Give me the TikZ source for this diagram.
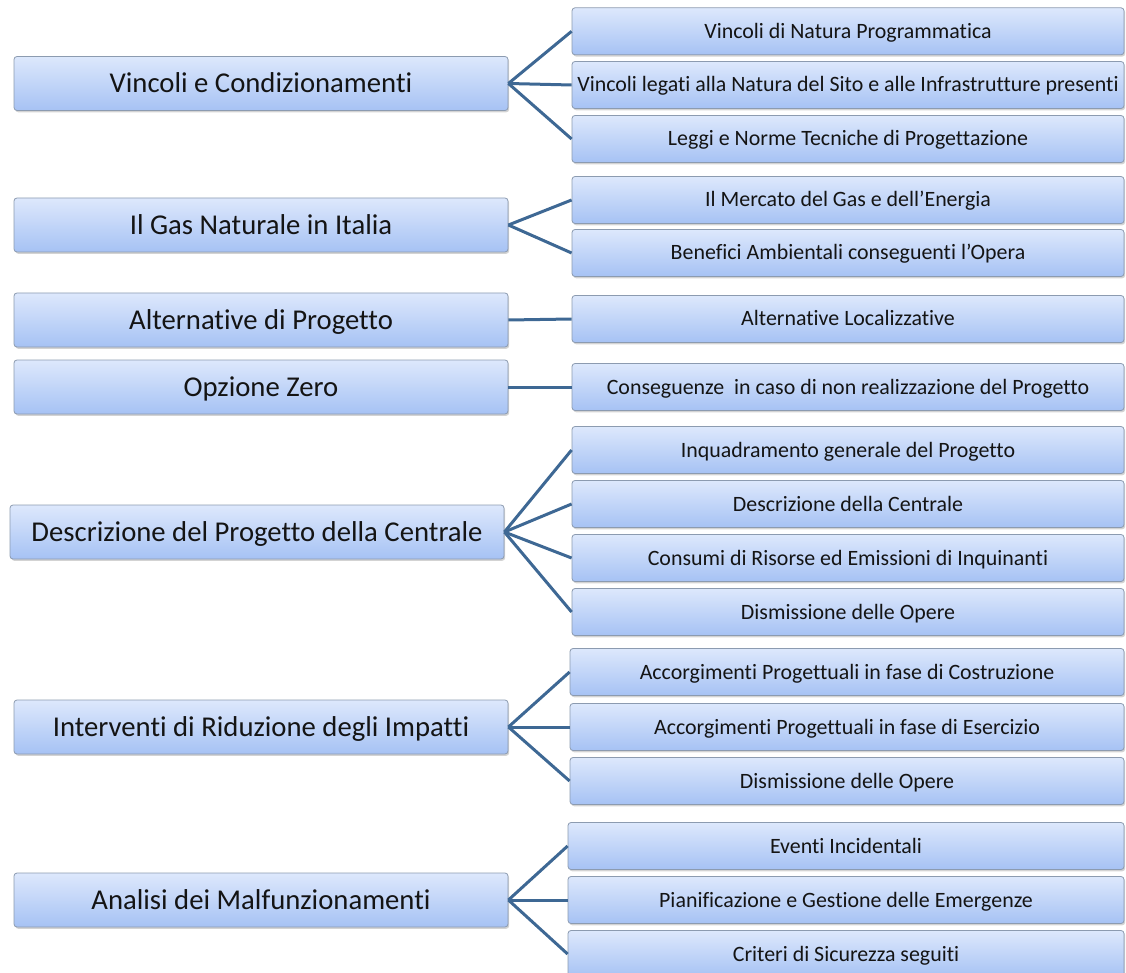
\documentclass[tikz,border=0pt]{standalone}
\usepackage{fontspec}
\setmainfont[Ligatures=NoCommon]{Carlito}
\usetikzlibrary{shadows}
\definecolor{topc}{HTML}{DDE8FC}
\definecolor{botc}{HTML}{A6C2F4}
\definecolor{edgec}{HTML}{8C9BB0}
\definecolor{linkc}{HTML}{3E6894}
\definecolor{txt}{HTML}{141414}
\tikzset{
  boxbase/.style={draw=edgec, line width=0.8pt, rounded corners=3pt, top color=topc, bottom color=botc,
    text=txt, inner sep=0pt,
    drop shadow={opacity=0.35, shadow xshift=1.2pt, shadow yshift=-1.8pt}},
  lbox/.style={boxbase, minimum width=494pt, minimum height=54pt, text height=24.1pt, text depth=5.7pt,
    font=\fontsize{28.7}{32}\selectfont},
  rbox/.style={boxbase, minimum width=552pt, minimum height=47pt, text height=18.4pt, text depth=4.4pt,
    font=\fontsize{21.9}{25}\selectfont},
  link/.style={draw=linkc, line width=3pt}
}
\begin{document}
\begin{tikzpicture}[x=1pt,y=-1pt]
\useasboundingbox (0,0) rectangle (1126,973);
% left boxes
\node[lbox] (L1) at (261,83.5) {Vincoli e Condizionamenti};
\node[lbox] (L2) at (261,225) {Il Gas Naturale in Italia};
\node[lbox] (L3) at (261,320) {Alternative di Progetto};
\node[lbox] (L4) at (261,387) {Opzione Zero};
\node[lbox] (L5) at (257,532) {Descrizione del Progetto della Centrale};
\node[lbox] (L6) at (261,727) {Interventi di Riduzione degli Impatti};
\node[lbox] (L7) at (261,900) {Analisi dei Malfunzionamenti};
% right boxes
\node[rbox] (R1) at (848,31.3) {Vincoli di Natura Programmatica};
\node[rbox] (R2) at (848,85) {Vincoli legati alla Natura del Sito e alle Infrastrutture presenti};
\node[rbox] (R3) at (848,139) {Leggi e Norme Tecniche di Progettazione};
\node[rbox] (R4) at (848,200) {Il Mercato del Gas e dell’Energia};
\node[rbox] (R5) at (848,253) {Benefici Ambientali conseguenti l’Opera};
\node[rbox] (R6) at (848,319) {Alternative Localizzative};
\node[rbox] (R7) at (848,387) {Conseguenze\ \ in caso di non\ realizzazione del Progetto};
\node[rbox] (R8) at (848,450) {Inquadramento generale del Progetto};
\node[rbox] (R9) at (848,504) {Descrizione della Centrale};
\node[rbox] (R10) at (848,558) {Consumi di Risorse ed Emissioni di Inquinanti};
\node[rbox] (R11) at (848,612) {Dismissione delle Opere};
\node[rbox, minimum width=554pt] (R12) at (847,672) {Accorgimenti Progettuali in fase di Costruzione};
\node[rbox, minimum width=554pt] (R13) at (847,727) {Accorgimenti Progettuali in fase di Esercizio};
\node[rbox, minimum width=554pt] (R14) at (847,781) {Dismissione delle Opere};
\node[rbox, minimum width=556pt] (R15) at (846,846) {Eventi Incidentali};
\node[rbox, minimum width=556pt] (R16) at (846,900) {Pianificazione e Gestione delle Emergenze};
\node[rbox, minimum width=556pt] (R17) at (846,954) {Criteri di Sicurezza seguiti};
% connectors
\foreach \r in {R1,R2,R3} \draw[link] (L1.east) -- (\r.west);
\foreach \r in {R4,R5} \draw[link] (L2.east) -- (\r.west);
\draw[link] (L3.east) -- (R6.west);
\draw[link] (L4.east) -- (R7.west);
\foreach \r in {R8,R9,R10,R11} \draw[link] (L5.east) -- (\r.west);
\foreach \r in {R12,R13,R14} \draw[link] (L6.east) -- (\r.west);
\foreach \r in {R15,R16,R17} \draw[link] (L7.east) -- (\r.west);
\end{tikzpicture}
\end{document}
